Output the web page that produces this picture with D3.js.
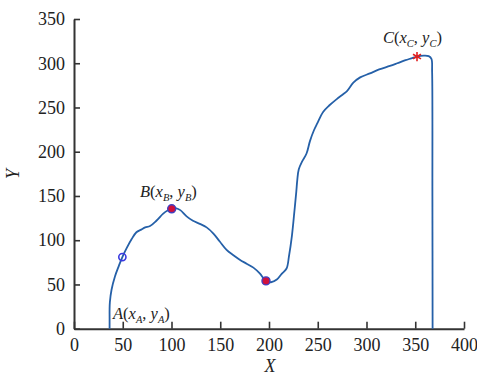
<!DOCTYPE html>
<html><head><meta charset="utf-8">
<script src="https://cdn.jsdelivr.net/npm/d3@7"></script>
<style>
body{margin:0;background:#fff;}
svg text{font-family:"Liberation Serif","Times New Roman",serif;fill:#222;}
</style></head>
<body><svg id="c" width="477" height="376"></svg>
<script>
const xVals=[36.5,36.5,36.5,36.8,38.5,42,46,49.6,54,59,64,69,73,78,84.5,91.5,96,100.2,105,109,115.5,122,129,136,143,149.5,156.5,163.5,170,177,184,190.5,196.9,202,208,213,218,220.5,223.5,226,228,229,230.5,234,238.5,242,246,249.5,255.5,262,269.5,276,280,286.5,293.5,303.5,313,324,331.5,340,346,351.8,358.7,363.8,366.6,367.3,367.6,367.8];
const yVals=[0,12,22,30,44,59,71,81,91,101,109,112,114.5,116,122,130,133.5,135.5,136,134,127,122,118.5,114.5,107.5,98.5,89,83,78,73.5,69,62.5,54,52.5,55.5,62,68,82,105,132,155,168,180,189,198,212,224,232,245,252.5,259.5,265,268.5,278,284,288.5,293,297,300,303.5,305.5,307.5,308.5,308,305,290,150,0];
const xTicks=[0,50,100,150,200,250,300,350,400];
const yTicks=[0,50,100,150,200,250,300,350];
const pointA=[49.6,81], pointB=[100.2,135.5], pointMin=[196.9,54], pointC=[351.8,307.5];

const svg=d3.select("#c");
const x=d3.scaleLinear().domain([0,400]).range([74,464]);
const y=d3.scaleLinear().domain([0,350]).range([328.7,19]);

const ax=svg.append("g").attr("transform","translate(0,328.7)")
  .call(d3.axisBottom(x).tickValues(xTicks).tickSizeInner(-7).tickSizeOuter(0).tickPadding(13));
const ay=svg.append("g").attr("transform","translate(74,0)")
  .call(d3.axisLeft(y).tickValues(yTicks).tickSizeInner(-6).tickSizeOuter(0).tickPadding(9));
[ax,ay].forEach(g=>{
  g.select(".domain").attr("stroke","#333").attr("stroke-width",2);
  g.selectAll(".tick line").attr("stroke","#333").attr("stroke-width",1.6);
  g.selectAll(".tick text").attr("font-size",18).attr("fill","#222")
   .attr("font-family","'Liberation Serif',serif");
});
ax.selectAll(".tick text").attr("dy","0.5em");

const line=d3.line().curve(d3.curveCatmullRom.alpha(0.5))
  .x((d,i)=>x(xVals[i])).y((d,i)=>y(yVals[i]));
svg.append("path").datum(xVals).attr("d",line).attr("fill","none")
  .attr("stroke","#2560a8").attr("stroke-width",1.8).attr("stroke-linejoin","round");

svg.append("circle").attr("cx",x(pointA[0])).attr("cy",y(pointA[1])).attr("r",3.6)
  .attr("fill","none").attr("stroke","#3a3ae0").attr("stroke-width",1.6);
[pointB,pointMin].forEach(p=>{
  svg.append("circle").attr("cx",x(p[0])).attr("cy",y(p[1])).attr("r",4)
    .attr("fill","#d0103c").attr("stroke","#4040c0").attr("stroke-width",1.4);
});
svg.append("path").attr("d",d3.symbol(d3.symbolAsterisk,60)())
  .attr("transform",`translate(${x(pointC[0])},${y(pointC[1])})`)
  .attr("fill","none").attr("stroke","#e02020").attr("stroke-width",1.6);

function ptLabel(tx,ty,L){
  const t=svg.append("text").attr("x",tx).attr("y",ty).attr("font-size",16.5);
  t.append("tspan").attr("font-style","italic").text(L);
  t.append("tspan").text("(");
  t.append("tspan").attr("font-style","italic").text("x");
  t.append("tspan").attr("font-style","italic").attr("font-size",10.5).attr("dy",4).text(L);
  t.append("tspan").attr("dy",-4).text(", ");
  t.append("tspan").attr("font-style","italic").text("y");
  t.append("tspan").attr("font-style","italic").attr("font-size",10.5).attr("dy",4).text(L);
  t.append("tspan").attr("dy",-4).text(")");
}
ptLabel(113,319,"A");
ptLabel(140,197,"B");
ptLabel(383,43,"C");

svg.append("text").attr("x",270).attr("y",372).attr("text-anchor","middle")
  .attr("font-size",18).attr("font-style","italic").text("X");
svg.append("text").attr("transform","translate(19,174) rotate(-90)").attr("text-anchor","middle")
  .attr("font-size",18).attr("font-style","italic").text("Y");
</script></body></html>
